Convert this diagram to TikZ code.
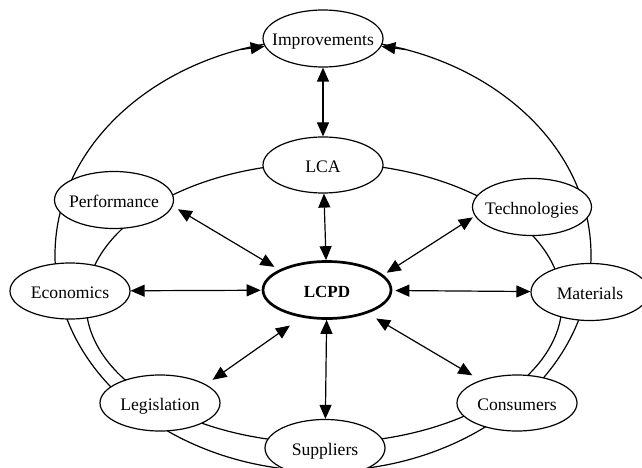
\documentclass[tikz,border=0pt]{standalone}
\usepackage{fontspec}
\setmainfont{Liberation Serif}
\usetikzlibrary{shapes.geometric,arrows.meta}

\tikzset{
  topic/.style={ellipse, draw, line width=1.2pt, fill=white,
    minimum width=120pt, minimum height=57pt,
    inner xsep=-14pt, inner ysep=0pt, text height=15pt, text depth=0pt,
    font=\fontsize{17.6}{20}\selectfont},
  hub/.style={topic, line width=2.7pt, minimum width=128pt,
    font=\fontsize{17}{20}\selectfont\bfseries},
  link/.style={{Triangle[length=14pt,width=12pt]}-{Triangle[length=14pt,width=12pt]}, line width=1.2pt},
  feed/.style={-{Triangle[length=14pt,width=12pt]}, line width=1.2pt},
  ring/.style={line width=1.2pt}
}

\begin{document}
\begin{tikzpicture}[x=1pt, y=-1pt]
  \useasboundingbox (0,0) rectangle (642,468);
  \fill[white] (0,0) rectangle (642,468);
  \clip (0,0) rectangle (642,468);

  % the two rings that join the outer topics
  \coordinate (outerc) at (323,255);
  \coordinate (innerc) at (324,303);
  \draw[ring] (outerc) ellipse [x radius=268pt, y radius=216pt];
  \draw[ring] (innerc) ellipse [x radius=238pt, y radius=140pt];

  % topics
  \node[topic] (Imp)  at (323,38.5) {Improvements};
  \node[topic, minimum height=56pt] (LCA)  at (323,165) {LCA};
  \node[topic, minimum width=119pt] (Perf) at (114,200) {Performance};
  \node[topic, minimum width=119pt] (Tech) at (532,207) {Technologies};
  \node[topic, minimum height=56pt] (Econ) at (70,291)  {Economics};
  \node[hub] (LCPD) at (327,290) {LCPD};
  \node[topic, minimum width=118pt] (Mat)  at (590,292) {Materials};
  \node[topic, minimum height=56pt] (Leg)  at (160,403) {Legislation};
  \node[topic, minimum height=56pt] (Cons) at (517,403) {Consumers};
  \node[topic] (Sup)  at (325,448) {Suppliers};

  % outer ring ends feeding Improvements
  \coordinate (feedL) at (240.2,49.6);
  \coordinate (feedR) at (405.8,49.6);
  \draw[feed] (feedL) -- (Imp);
  \draw[feed] (feedR) -- (Imp);

  % two-way links
  \draw[link] (Imp) -- (LCA);
  \draw[link] (LCA) -- (LCPD);
  \draw[link] (LCPD) -- (Sup);
  \draw[link, shorten >=1pt] (Econ) -- (LCPD);
  \draw[link, shorten <=3pt] (LCPD) -- (Mat);
  \draw[link, shorten <=6pt, shorten >=5.5pt] (Perf.-6.8) -- (LCPD.157.9);
  \draw[link, shorten <=2.5pt, shorten >=4pt] (Tech.189.8) -- (LCPD.15.3);
  \draw[link, shorten <=8pt, shorten >=14pt] (Leg.22) -- (LCPD.227);
  \draw[link, shorten <=10pt, shorten >=9.5pt] (LCPD.-30.8) -- (Cons.148.9);
\end{tikzpicture}
\end{document}
